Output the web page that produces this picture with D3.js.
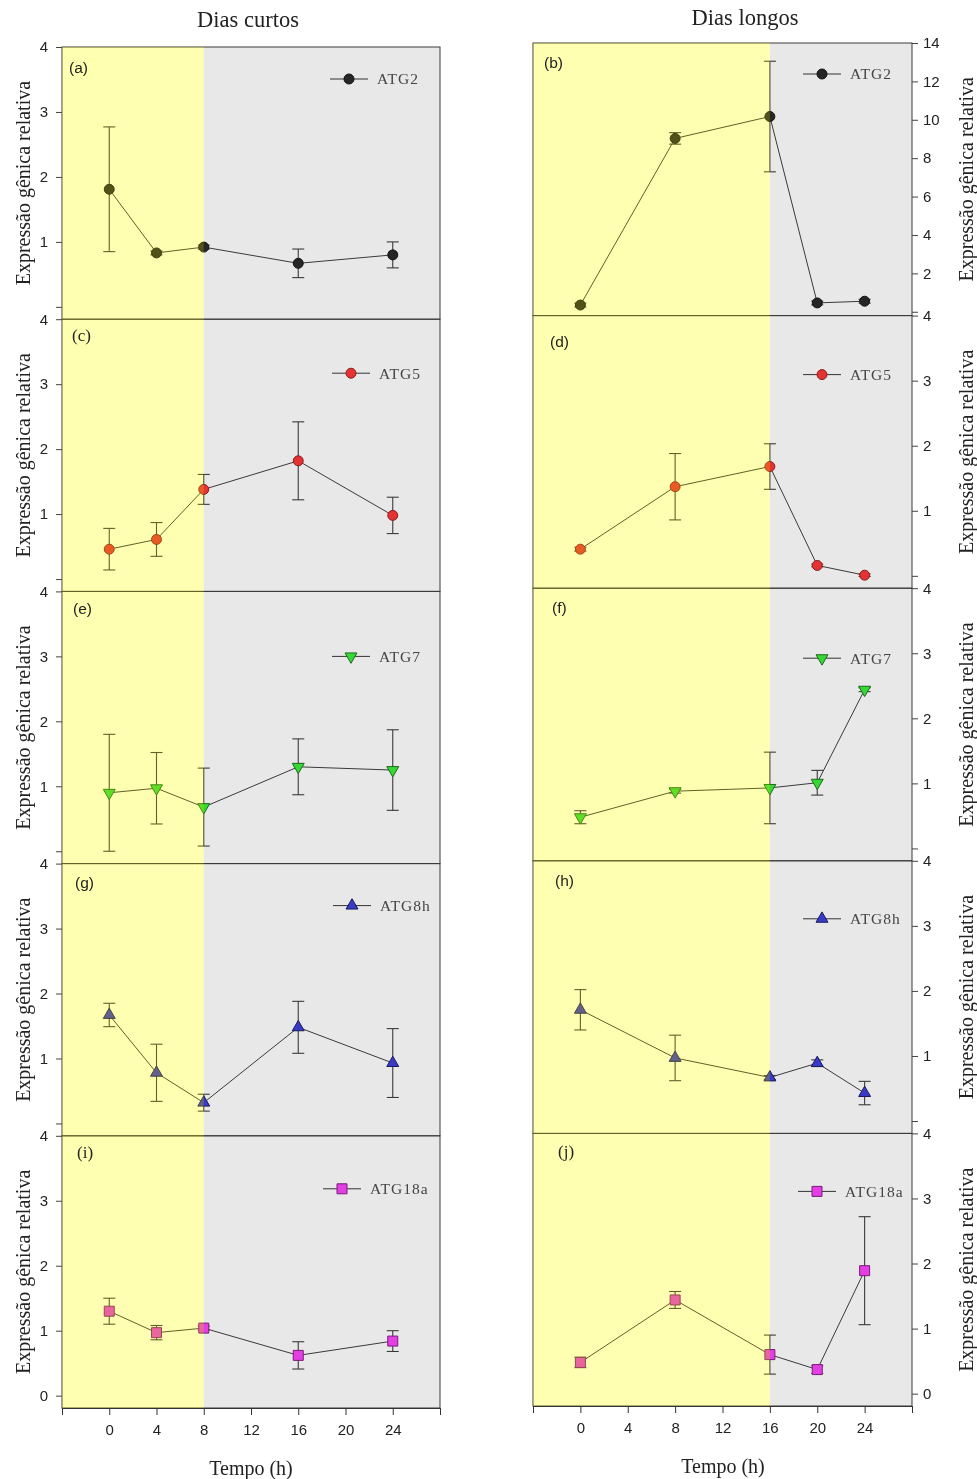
<!DOCTYPE html>
<html>
<head>
<meta charset="utf-8">
<script src="https://cdn.jsdelivr.net/npm/d3@7"></script>
<style>
  body { margin: 0; background: #fff; }
  .sans { font-family: "Liberation Sans", Arial, sans-serif; }
  .serif { font-family: "Liberation Serif", "Times New Roman", serif; }
</style>
</head>
<body>
<svg id="chart" width="977" height="1479"></svg>
<script>
// sampling times (h)
const horasCurtos = [0, 4, 8, 16, 24];
const horasLongos = [0, 8, 16, 20, 24];
const genes = ["ATG2", "ATG5", "ATG7", "ATG8h", "ATG18a"];

// Dias curtos: mean and error
const curtosATG2 = [1.81, 0.83, 0.92, 0.67, 0.80];
const curtosATG2Err = [0.96, 0.03, 0.03, 0.22, 0.20];
const curtosATG5 = [0.46, 0.61, 1.38, 1.82, 0.98];
const curtosATG5Err = [0.32, 0.26, 0.23, 0.60, 0.28];
const curtosATG7 = [0.90, 0.97, 0.68, 1.30, 1.25];
const curtosATG7Err = [0.90, 0.55, 0.60, 0.43, 0.62];
const curtosATG8h = [1.67, 0.78, 0.32, 1.48, 0.93];
const curtosATG8hErr = [0.18, 0.44, 0.13, 0.40, 0.53];
const curtosATG18a = [1.30, 0.97, 1.04, 0.62, 0.84];
const curtosATG18aErr = [0.20, 0.11, 0.03, 0.21, 0.16];

// Dias longos: mean and error
const longosATG2 = [0.35, 9.03, 10.17, 0.46, 0.55];
const longosATG2Err = [0.10, 0.30, 2.88, 0.10, 0.10];
const longosATG5 = [0.41, 1.37, 1.68, 0.16, 0.01];
const longosATG5Err = [0.03, 0.51, 0.35, 0.02, 0.02];
const longosATG7 = [0.48, 0.88, 0.93, 1.01, 2.44];
const longosATG7Err = [0.10, 0.03, 0.55, 0.19, 0.03];
const longosATG8h = [1.71, 0.97, 0.67, 0.89, 0.43];
const longosATG8hErr = [0.31, 0.35, 0.03, 0.05, 0.18];
const longosATG18a = [0.48, 1.44, 0.60, 0.37, 1.89];
const longosATG18aErr = [0.08, 0.13, 0.30, 0.06, 0.83];

// y-axis maxima per row (long-day ATG2 uses its own scale)
const yMaxCurtos = [4, 4, 4, 4, 4];
const yMaxLongos = [14, 4, 4, 4, 4];
const xTicks = [-4, 0, 4, 8, 12, 16, 20, 24, 28];

const markerStyle = {
  ATG2:   { shape: d3.symbolCircle,   size: 78,  rot: 0,   fill: "#262626", stroke: "#111" },
  ATG5:   { shape: d3.symbolCircle,   size: 78,  rot: 0,   fill: "#e43333", stroke: "#8a1a1a" },
  ATG7:   { shape: d3.symbolTriangle, size: 62,  rot: 180, fill: "#35d835", stroke: "#1c6a1c" },
  ATG8h:  { shape: d3.symbolTriangle, size: 62,  rot: 0,   fill: "#3a3ac8", stroke: "#1a1a5a" },
  ATG18a: { shape: d3.symbolSquare,   size: 100, rot: 0,   fill: "#e33fe3", stroke: "#7a1a7a" }
};

const columns = [
  {
    hours: horasCurtos, light: 8, left: 62, right: 440, top: 47, bottom: 1408,
    side: "left", title: "Dias curtos", titleX: 248, titleY: 19, xTitleX: 251, xTitleY: 1468,
    yTitleX: 23, yMax: yMaxCurtos,
    means: [curtosATG2, curtosATG5, curtosATG7, curtosATG8h, curtosATG18a],
    errs: [curtosATG2Err, curtosATG5Err, curtosATG7Err, curtosATG8hErr, curtosATG18aErr],
    letters: ["(a)", "(c)", "(e)", "(g)", "(i)"],
    letterSerif: [false, true, false, false, true],
    letterX: [69, 72, 73, 75, 77], letterDy: [21, 16, 17, 19, 16],
    legendX: [330, 332, 332, 333, 323], legendDy: [32, 54, 65, 42, 53]
  },
  {
    hours: horasLongos, light: 16, left: 533, right: 912, top: 43, bottom: 1406,
    side: "right", title: "Dias longos", titleX: 745, titleY: 17, xTitleX: 723, xTitleY: 1466,
    yTitleX: 966, yMax: yMaxLongos,
    means: [longosATG2, longosATG5, longosATG7, longosATG8h, longosATG18a],
    errs: [longosATG2Err, longosATG5Err, longosATG7Err, longosATG8hErr, longosATG18aErr],
    letters: ["(b)", "(d)", "(f)", "(h)", "(j)"],
    letterSerif: [false, false, false, false, true],
    letterX: [544, 550, 552, 555, 558], letterDy: [20, 26, 19, 20, 18],
    legendX: [803, 803, 803, 803, 798], legendDy: [31, 59, 70, 58, 58]
  }
];

const svg = d3.select("#chart");

columns.forEach(col => {
  const x = d3.scaleLinear().domain([-4, 28]).range([col.left, col.right]);
  const h = (col.bottom - col.top) / genes.length;
  const g = svg.append("g");

  const panels = genes.map((gene, i) => {
    const top = col.top + i * h;
    const yMax = col.yMax[i];
    const yMin = yMax > 4 ? -0.2 : -0.19;
    const y = d3.scaleLinear().domain([yMin, yMax]).range([top + h, top]);
    const pts = col.hours.map((t, j) => ({ t: t, v: col.means[i][j], e: col.errs[i][j] }));
    return { gene, i, top, y, yMax, pts };
  });

  // night background
  g.selectAll("rect.night").data(panels).join("rect")
    .attr("x", x(col.light)).attr("y", p => p.top)
    .attr("width", x(28) - x(col.light)).attr("height", h)
    .attr("fill", "#e8e8e8");

  // panel frames
  g.selectAll("rect.frame").data(panels).join("rect")
    .attr("x", col.left).attr("y", p => p.top)
    .attr("width", col.right - col.left).attr("height", h)
    .attr("fill", "none").attr("stroke", "#3a3a3a").attr("stroke-width", 1);

  panels.forEach(p => {
    const pg = g.append("g");
    const st = markerStyle[p.gene];
    const line = d3.line().x(d => x(d.t)).y(d => p.y(d.v));

    pg.append("path").datum(p.pts)
      .attr("d", line).attr("fill", "none")
      .attr("stroke", "#3a3a3a").attr("stroke-width", 1);

    // error bars
    const eb = pg.selectAll("g.err").data(p.pts).join("g")
      .attr("stroke", "#3a3a3a").attr("stroke-width", 1.1);
    eb.append("line")
      .attr("x1", d => x(d.t)).attr("x2", d => x(d.t))
      .attr("y1", d => p.y(d.v + d.e)).attr("y2", d => p.y(d.v - d.e));
    eb.append("line")
      .attr("x1", d => x(d.t) - 6).attr("x2", d => x(d.t) + 6)
      .attr("y1", d => p.y(d.v + d.e)).attr("y2", d => p.y(d.v + d.e));
    eb.append("line")
      .attr("x1", d => x(d.t) - 6).attr("x2", d => x(d.t) + 6)
      .attr("y1", d => p.y(d.v - d.e)).attr("y2", d => p.y(d.v - d.e));

    const sym = d3.symbol().type(st.shape).size(st.size);
    pg.selectAll("path.mk").data(p.pts).join("path")
      .attr("d", sym)
      .attr("transform", d => `translate(${x(d.t)},${p.y(d.v)}) rotate(${st.rot})`)
      .attr("fill", st.fill).attr("stroke", st.stroke).attr("stroke-width", 1);

    // legend
    const lx = col.legendX[p.i], ly = p.top + col.legendDy[p.i];
    pg.append("line").attr("x1", lx).attr("x2", lx + 38).attr("y1", ly).attr("y2", ly)
      .attr("stroke", "#333").attr("stroke-width", 1);
    pg.append("path").attr("d", sym)
      .attr("transform", `translate(${lx + 19},${ly}) rotate(${st.rot})`)
      .attr("fill", st.fill).attr("stroke", st.stroke);
    pg.append("text").attr("class", "serif")
      .attr("x", lx + 47).attr("y", ly).attr("dy", "0.35em")
      .attr("font-size", 15.5).attr("letter-spacing", 1).attr("fill", "#444")
      .text(p.gene);
  });

  // light period: a multiply tint plus a yellow wash over everything beneath
  g.append("rect")
    .attr("x", x(-4)).attr("y", col.top)
    .attr("width", x(col.light) - x(-4)).attr("height", col.bottom - col.top)
    .attr("fill", "rgb(255,255,222)").style("mix-blend-mode", "multiply");
  g.append("rect")
    .attr("x", x(-4)).attr("y", col.top)
    .attr("width", x(col.light) - x(-4)).attr("height", col.bottom - col.top)
    .attr("fill", "#ffff00").attr("fill-opacity", 0.2);

  // panel letters
  panels.forEach(p => {
    const serif = col.letterSerif[p.i];
    g.append("text").attr("class", serif ? "serif" : "sans")
      .attr("x", col.letterX[p.i]).attr("y", p.top + col.letterDy[p.i]).attr("dy", "0.35em")
      .attr("font-size", serif ? 17 : 15.5).attr("fill", "#222")
      .text(col.letters[p.i]);
  });

  // y axes
  panels.forEach(p => {
    const last = p.i === genes.length - 1;
    const ticks = p.yMax > 4 ? d3.range(0, 15, 2) : [0, 1, 2, 3, 4];
    const axis = (col.side === "left" ? d3.axisLeft(p.y) : d3.axisRight(p.y))
      .tickValues(ticks)
      .tickFormat(d => (d === 0 && !last) ? "" : d)
      .tickSize(6).tickPadding(col.side === "left" ? 8 : 5);
    const ax = g.append("g")
      .attr("transform", `translate(${col.side === "left" ? col.left : col.right},0)`)
      .call(axis);
    ax.select(".domain").remove();
    ax.selectAll("line").attr("stroke", "#444");
    ax.selectAll("text").attr("class", "sans").attr("font-size", 15).attr("fill", "#222");

    g.append("text").attr("class", "serif")
      .attr("transform", `translate(${col.yTitleX},${p.top + h / 2}) rotate(-90)`)
      .attr("text-anchor", "middle").attr("dy", "0.35em")
      .attr("font-size", 20).attr("fill", "#222")
      .text("Expressão gênica relativa");
  });

  // x axis
  const xa = g.append("g").attr("transform", `translate(0,${col.bottom})`)
    .call(d3.axisBottom(x).tickValues(xTicks)
      .tickFormat(d => (d < 0 || d > 24) ? "" : d)
      .tickSize(7).tickPadding(9));
  xa.select(".domain").attr("stroke", "#333");
  xa.selectAll("line").attr("stroke", "#333");
  xa.selectAll("text").attr("class", "sans").attr("font-size", 15).attr("fill", "#222");

  g.append("text").attr("class", "serif")
    .attr("x", col.xTitleX).attr("y", col.xTitleY).attr("dy", "0.35em")
    .attr("text-anchor", "middle").attr("font-size", 20).attr("fill", "#222")
    .text("Tempo (h)");

  g.append("text").attr("class", "serif")
    .attr("x", col.titleX).attr("y", col.titleY).attr("dy", "0.35em")
    .attr("text-anchor", "middle").attr("font-size", 22.5).attr("fill", "#222")
    .text(col.title);
});
</script>
</body>
</html>
